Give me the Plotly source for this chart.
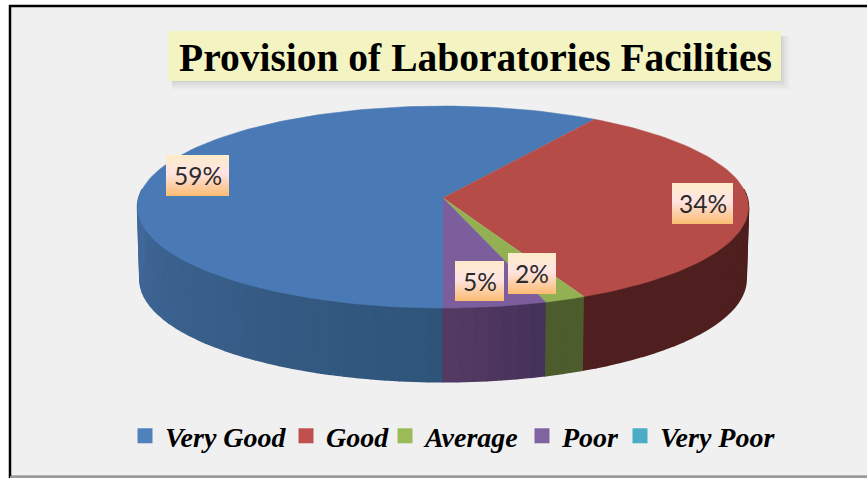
import math
import plotly.graph_objects as go

categories = ["Very Good", "Good", "Average", "Poor", "Very Poor"]
values = [59, 34, 2, 5, 0]
value_labels = ["59%", "34%", "2%", "5%"]
top_colors = ["#4a7ab5", "#b54c48", "#93b152", "#7b5e9b", "#4bacc6"]
legend_colors = ["#4f81bd", "#c0504d", "#9bbb59", "#8064a2", "#4bacc6"]
wall_left = ["#41699b", "#4e1f1e", "#4d5c2c", "#543a63", "#4bacc6"]
wall_right = ["#2f5479", "#4e1f1e", "#4d5c2c", "#44325a", "#4bacc6"]
label_boxes = [(166, 229, 155, 196), (672, 733, 183, 224), (508, 556, 253, 294), (455, 504, 261, 301)]
legend_text_x = [166, 327, 426, 563, 661]

CX, CY, K = 443.0, 198.0, 0.0892
TOP = (304.3, 100.2, 0.0)
BOT = (302.0, 101.8, 72.0)


def proj(t, e):
    a, b, dy = e
    s, c = math.sin(math.radians(t)), -math.cos(math.radians(t))
    w = 1 - K * c
    return CX + a * s / w, CY + dy + b * c / w


def mix(c1, c2, f):
    p = [int(c1[i:i + 2], 16) for i in (1, 3, 5)]
    q = [int(c2[i:i + 2], 16) for i in (1, 3, 5)]
    return "#%02x%02x%02x" % tuple(round(u + (v - u) * f) for u, v in zip(p, q))


fig = go.Figure()
total = sum(values)
start = 180.0
spans = []
for v in values:
    end = start + v / total * 360
    spans.append((start, end))
    start = end

# Side walls (only the near half of the disc is visible)
VIS0, VIS1 = 85.0, 275.0
for i, (a0, a1) in enumerate(spans):
    if a0 == a1:
        continue
    for shift in (0, -360):
        lo, hi = max(a0 + shift, VIS0), min(a1 + shift, VIS1)
        if lo >= hi:
            continue
        n = max(1, int((hi - lo) / 2.5))
        for j in range(n):
            t0 = lo + (hi - lo) * j / n
            t1 = lo + (hi - lo) * (j + 1) / n
            pts = [proj(t0 + (t1 - t0) * q / 3, TOP) for q in range(4)] + \
                  [proj(t1 - (t1 - t0) * q / 3, BOT) for q in range(4)]
            f = 1 - j / max(1, n - 1)
            col = mix(wall_left[i], wall_right[i], f)
            fig.add_trace(go.Scatter(
                x=[p[0] for p in pts], y=[p[1] for p in pts], mode="lines", fill="toself",
                fillcolor=col, line=dict(color=col, width=1.5), hoverinfo="skip", showlegend=False))

# Top faces
for i, (a0, a1) in enumerate(spans):
    if a0 == a1:
        continue
    n = max(4, int((a1 - a0) / 1.5))
    pts = [(CX, CY)] + [proj(a0 + (a1 - a0) * q / n, TOP) for q in range(n + 1)]
    fig.add_trace(go.Scatter(
        x=[p[0] for p in pts], y=[p[1] for p in pts], mode="lines", fill="toself",
        fillcolor=top_colors[i], line=dict(color=top_colors[i], width=0.5),
        hoverinfo="skip", showlegend=False))

# Legend entries, one positioned legend per category
legends = {}
for k, (name, col, tx) in enumerate(zip(categories, legend_colors, legend_text_x)):
    key = "legend" if k == 0 else "legend%d" % (k + 1)
    fig.add_trace(go.Scatter(x=[None], y=[None], mode="markers", name=name, legend=key,
                             marker=dict(symbol="square", size=15, color=col)))
    legends[key] = dict(orientation="h", x=(tx - 41) / 867, y=0.140, xanchor="left", yanchor="top",
                        bgcolor="rgba(0,0,0,0)", itemsizing="trace", itemwidth=30,
                        font=dict(family="Liberation Serif", size=28, color="#000000",
                                  weight="bold", style="italic"))

shapes = []
# Frame
shapes.append(dict(type="rect", x0=10, x1=880, y0=6, y1=477, layer="below",
                   fillcolor="#f0f0f0", line=dict(color="#000000", width=2.5)))
shapes.append(dict(type="line", x0=10, x1=867, y0=477, y1=477, layer="below",
                   line=dict(color="#9a9a9a", width=2)))
# Title shadow + box
for d, op in [(9, 0.015), (7, 0.02), (5, 0.025), (3, 0.03), (1, 0.04)]:
    shapes.append(dict(type="rect", x0=172, x1=781 + d, y0=36, y1=81 + d, layer="below",
                       fillcolor="rgba(0,0,0,%s)" % op, line=dict(width=0)))
shapes.append(dict(type="rect", x0=168, x1=781, y0=31, y1=81, layer="below",
                   fillcolor="#f4f4c2", line=dict(width=0)))

# Gradient label boxes
STOPS = [(0.0, "#fdebcb"), (0.45, "#ffe4e2"), (1.0, "#fbbc74")]
annotations = []
for text, (x0, x1, y0, y1) in zip(value_labels, label_boxes):
    n = int(y1 - y0)
    for j in range(n):
        f = j / (n - 1)
        col = mix(STOPS[0][1], STOPS[1][1], f / 0.45) if f < 0.45 else mix(STOPS[1][1], STOPS[2][1], (f - 0.45) / 0.55)
        shapes.append(dict(type="rect", x0=x0, x1=x1, y0=y0 + j, y1=y0 + j + 1, layer="above",
                           fillcolor=col, line=dict(width=0)))
    annotations.append(dict(x=(x0 + x1) / 2, y=(y0 + y1) / 2, text=text, showarrow=False,
                            xref="x", yref="y", font=dict(family="Lato", size=24.5, color="#2a2a2a")))

annotations.append(dict(x=475.5, y=58, text="<b>Provision of Laboratories Facilities</b>", showarrow=False,
                        xref="x", yref="y", font=dict(family="Liberation Serif", size=39.5, color="#000000")))

fig.update_layout(
    width=867, height=478, margin=dict(l=0, r=0, t=0, b=0),
    paper_bgcolor="#ffffff", plot_bgcolor="rgba(0,0,0,0)",
    xaxis=dict(range=[0, 867], visible=False, fixedrange=True),
    yaxis=dict(range=[478, 0], visible=False, fixedrange=True),
    shapes=shapes, annotations=annotations, **legends,
)
fig.write_html("out.html", config={"displayModeBar": False},
               post_script="document.body.style.margin='0';document.documentElement.style.overflow='hidden';")
